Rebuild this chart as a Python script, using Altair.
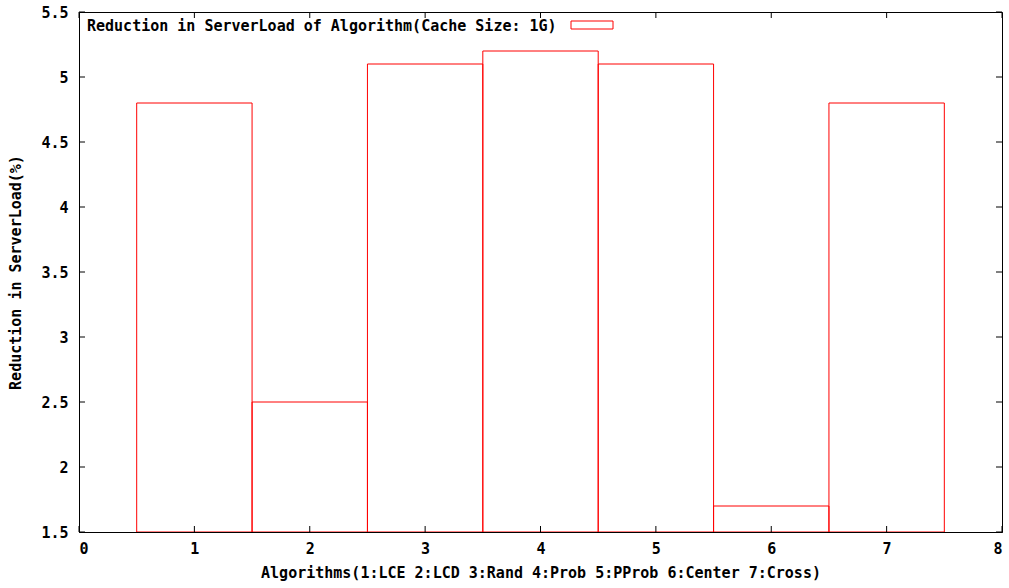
import altair as alt
import pandas as pd

# Reduction in server load (%) for each caching algorithm
algorithms = [1, 2, 3, 4, 5, 6, 7]
reduction = [4.8, 2.5, 5.1, 5.2, 5.1, 1.7, 4.8]
x_ticks = [0, 1, 2, 3, 4, 5, 6, 7, 8]
y_ticks = [1.5, 2, 2.5, 3, 3.5, 4, 4.5, 5, 5.5]
legend_label = "Reduction in ServerLoad of Algorithm(Cache Size: 1G)"

W, H = 923, 520
FONT = "DejaVu Sans Mono"
RED = "#ff0000"

bars_df = pd.DataFrame({
    "algo": algorithms,
    "value": reduction,
    "left": [a - 0.5 for a in algorithms],
    "right": [a + 0.5 for a in algorithms],
    "base": [y_ticks[0]] * len(algorithms),
})
xt_df = pd.DataFrame({"x": x_ticks})
yt_df = pd.DataFrame({"y": y_ticks})

xscale = alt.Scale(domain=[x_ticks[0], x_ticks[-1]], nice=False, zero=False)
yscale = alt.Scale(domain=[y_ticks[0], y_ticks[-1]], nice=False, zero=False)

bars = alt.Chart(bars_df).mark_rect(
    fill=None, fillOpacity=0, stroke=RED, strokeWidth=1
).encode(
    x=alt.X("left:Q", scale=xscale,
            axis=alt.Axis(values=x_ticks, format="d", ticks=False, grid=False, zindex=1,
                          labelPadding=9, titlePadding=9,
                          title="Algorithms(1:LCE 2:LCD 3:Rand 4:Prob 5:PProb 6:Center 7:Cross)")),
    x2="right:Q",
    y=alt.Y("value:Q", scale=yscale,
            axis=alt.Axis(values=y_ticks, ticks=False, grid=False, zindex=1,
                          labelPadding=11, titlePadding=17,
                          labelExpr="datum.value % 1 != 0 ? format(datum.value, '.1f') : format(datum.value, 'd')",
                          title="Reduction in ServerLoad(%)")),
    y2="base:Q",
)

# inward tick marks on all four sides
tick_len = 6
xt_bottom = alt.Chart(xt_df).mark_rule(color="black", strokeWidth=1).encode(
    x=alt.X("x:Q", scale=xscale), y=alt.value(H), y2=alt.value(H - tick_len))
xt_top = alt.Chart(xt_df).mark_rule(color="black", strokeWidth=1).encode(
    x=alt.X("x:Q", scale=xscale), y=alt.value(0), y2=alt.value(tick_len))
yt_left = alt.Chart(yt_df).mark_rule(color="black", strokeWidth=1).encode(
    y=alt.Y("y:Q", scale=yscale), x=alt.value(0), x2=alt.value(tick_len))
yt_right = alt.Chart(yt_df).mark_rule(color="black", strokeWidth=1).encode(
    y=alt.Y("y:Q", scale=yscale), x=alt.value(W), x2=alt.value(W - tick_len))

# key box in the top-left corner
key_df = pd.DataFrame({"label": [legend_label]})
key_text = alt.Chart(key_df).mark_text(
    align="left", baseline="middle", font=FONT, fontSize=15, fontWeight="bold", color="black"
).encode(x=alt.value(8), y=alt.value(14), text="label:N")
key_swatch = alt.Chart(key_df).mark_rect(
    fill=None, fillOpacity=0, stroke=RED, strokeWidth=1
).encode(x=alt.value(492), x2=alt.value(534), y=alt.value(9), y2=alt.value(17))

chart = alt.layer(bars, xt_bottom, xt_top, yt_left, yt_right, key_text, key_swatch).properties(
    width=W, height=H,
    autosize=alt.AutoSizeParams(type="none"),
    padding={"left": 79, "top": 12, "right": 7, "bottom": 56},
).configure(
    background="white"
).configure_view(
    stroke="black", strokeWidth=1
).configure_axis(
    domainColor="black", domainWidth=1,
    labelFont=FONT, labelFontSize=15, labelFontWeight="bold", labelColor="black",
    titleFont=FONT, titleFontSize=15, titleFontWeight="bold", titleColor="black",
)

chart.save("out.html", embed_options={"renderer": "svg", "actions": False})
